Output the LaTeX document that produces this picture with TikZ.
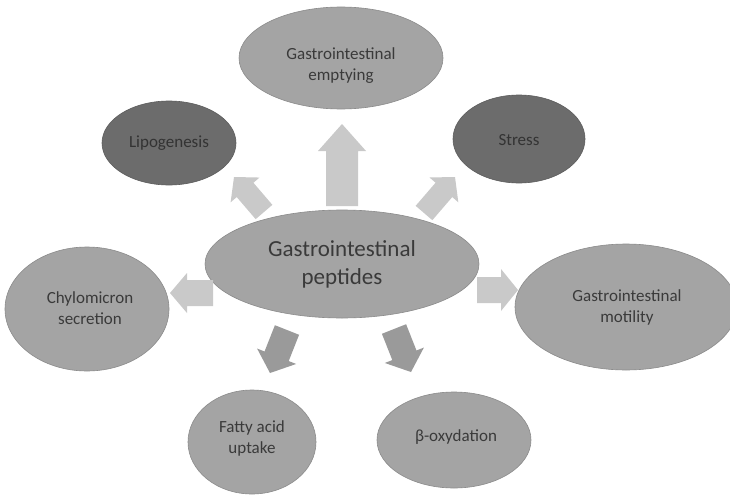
\documentclass[tikz,border=0pt]{standalone}
\usepackage{fontspec}
\setmainfont{Carlito}
\usetikzlibrary{calc,shapes.geometric}
\definecolor{ellgray}{HTML}{A4A4A4}
\definecolor{elldark}{HTML}{6C6C6C}
\definecolor{arrgray}{HTML}{C9C9C9}
\definecolor{arrdark}{HTML}{9A9A9A}
\definecolor{txtgray}{HTML}{3A3A3A}
\tikzset{
  bubble/.style={ellipse, fill=ellgray, draw=ellgray!85!black, line width=0.6pt, inner sep=0pt},
  darkbubble/.style={bubble, fill=elldark, draw=elldark!85!black},
  lbl/.style={align=center, text=txtgray, inner sep=0pt, font=\fontsize{17}{21}\selectfont},
  biglbl/.style={lbl, font=\fontsize{23}{28}\selectfont},
  darklbl/.style={lbl, text=black!80},
}
\newcommand\blockarr[6]{%
  \coordinate (hb) at ($(#2)!#5!(#1)$);
  \fill[#6] ($(#1)!#3!90:(#2)$) -- ($(hb)!#3!90:(#2)$) -- ($(hb)!#4!90:(#2)$) -- (#2)
    -- ($(hb)!#4!-90:(#2)$) -- ($(hb)!#3!-90:(#2)$) -- ($(#1)!#3!-90:(#2)$) -- cycle;}
\begin{document}
\begin{tikzpicture}[x=1pt,y=-1pt]
\useasboundingbox (0,0) rectangle (730,495);
\fill[white] (0,0) rectangle (730,495);
% ellipses
\node[bubble, minimum width=204pt, minimum height=102pt] (empty) at (341,58) {};
\node[lbl] (emptyt) at (341,66) {Gastrointestinal\\emptying};
\node[darkbubble, minimum width=134pt, minimum height=84pt] (lipo) at (169,143) {};
\node[darklbl] (lipot) at (169,143) {Lipogenesis};
\node[darkbubble, minimum width=132pt, minimum height=88pt] (stress) at (519,139) {};
\node[darklbl] (stresst) at (519,140) {Stress};
\node[bubble, minimum width=274pt, minimum height=108pt] (pep) at (342,264) {};
\node[biglbl] (pept) at (342,264) {Gastrointestinal\\peptides};
\node[bubble, minimum width=164pt, minimum height=124pt] (chylo) at (87,309) {};
\node[lbl] (chylot) at (90,308) {Chylomicron\\secretion};
\node[bubble, minimum width=222pt, minimum height=126pt] (moti) at (626,307) {};
\node[lbl] (motit) at (627,307) {Gastrointestinal\\motility};
\node[bubble, minimum width=128pt, minimum height=104pt] (fatty) at (252,442) {};
\node[lbl] (fattyt) at (252,438) {Fatty acid\\uptake};
\node[bubble, minimum width=154pt, minimum height=96pt] (beta) at (454,440) {};
\node[lbl] (betat) at (456,437) {β-oxydation};
% arrow end points
\coordinate (upA) at (342,206);  \coordinate (upB) at (342,124);
\coordinate (ulA) at (264,212);  \coordinate (ulB) at (234,177);
\coordinate (urA) at (424,213);  \coordinate (urB) at (455,177);
\coordinate (lA)  at (213,293);  \coordinate (lB)  at (170,293);
\coordinate (rA)  at (477,290);  \coordinate (rB)  at (518,290);
\coordinate (dlA) at (287,330);  \coordinate (dlB) at (270,373);
\coordinate (drA) at (394,329);  \coordinate (drB) at (411,372);
\blockarr{upA}{upB}{16pt}{24pt}{27pt}{arrgray}
\blockarr{ulA}{ulB}{11pt}{19pt}{17pt}{arrgray}
\blockarr{urA}{urB}{11pt}{19pt}{17pt}{arrgray}
\blockarr{lA}{lB}{13pt}{20pt}{17pt}{arrgray}
\blockarr{rA}{rB}{13pt}{21pt}{17pt}{arrgray}
\blockarr{dlA}{dlB}{13pt}{21pt}{18pt}{arrdark}
\blockarr{drA}{drB}{13pt}{21pt}{18pt}{arrdark}
\end{tikzpicture}
\end{document}
